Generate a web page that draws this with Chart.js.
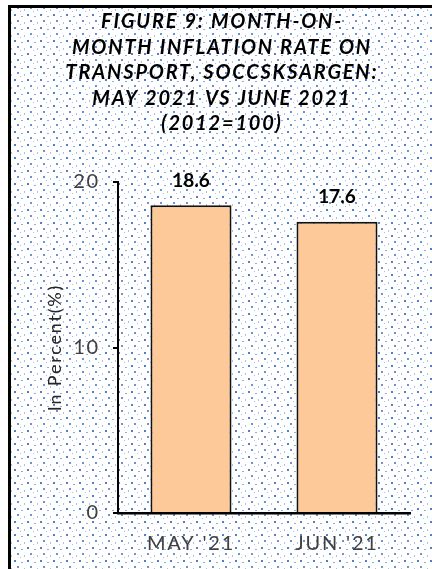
<!DOCTYPE html>
<html>
<head>
<meta charset="utf-8">
<script src="https://cdn.jsdelivr.net/npm/chart.js@4.4.0/dist/chart.umd.min.js"></script>
<style>
  body { margin: 0; background: #fff; }
  #wrap { width: 432px; height: 569px; }
</style>
</head>
<body>
<div id="wrap"><canvas id="myChart"></canvas></div>
<script>
// Chart data
const categories = ["MAY '21", "JUN '21"];
const inflationRates = [18.6, 17.6];
const yTicks = [0, 10, 20];
const titleLines = [
  'FIGURE 9: MONTH-ON-',
  'MONTH INFLATION RATE ON',
  'TRANSPORT, SOCCSKSARGEN:',
  'MAY 2021 VS JUNE 2021',
  '(2012=100)'
];
const yAxisTitle = 'In Percent(%)';

const fontFamily = 'Lato, "Open Sans", sans-serif';

// small tile for the blue dotted background
function makePattern(ctx) {
  const tile = document.createElement('canvas');
  tile.width = 13;
  tile.height = 13;
  const t = tile.getContext('2d');
  t.fillStyle = '#fff';
  t.fillRect(0, 0, 13, 13);
  t.fillStyle = '#4f7fc9';
  t.fillRect(1, 1, 2, 2);
  t.fillStyle = '#8eaee0';
  t.fillRect(8, 3, 2, 1);
  t.fillStyle = '#6b93d4';
  t.fillRect(4, 7, 2, 2);
  t.fillStyle = '#a8c1e8';
  t.fillRect(11, 9, 1, 2);
  t.fillRect(7, 11, 1, 1);
  return ctx.createPattern(tile, 'repeat');
}

const framePlugin = {
  id: 'frame',
  beforeDraw(chart) {
    const ctx = chart.ctx;
    ctx.save();
    ctx.fillStyle = '#fff';
    ctx.fillRect(0, 0, chart.width, chart.height);
    ctx.fillStyle = makePattern(ctx);
    ctx.fillRect(11, 8, chart.width, chart.height);
    ctx.fillStyle = '#000';
    ctx.fillRect(8, 5, chart.width, 3);
    ctx.fillRect(8, 5, 3, chart.height);
    ctx.restore();
    // wide letters for title and axis labels
    ctx.letterSpacing = '1.8px';
  },
  beforeDatasetsDraw(chart) {
    chart.ctx.letterSpacing = '0px';
  },
  afterDatasetsDraw(chart) {
    // value labels above the bars
    const ctx = chart.ctx;
    const meta = chart.getDatasetMeta(0);
    ctx.save();
    ctx.font = 'bold 19px ' + fontFamily;
    ctx.fillStyle = '#000';
    ctx.textAlign = 'center';
    ctx.textBaseline = 'bottom';
    meta.data.forEach((bar, i) => {
      ctx.fillText(inflationRates[i].toFixed(1), bar.x, bar.y - 15);
    });
    ctx.restore();
  }
};

const ctx = document.getElementById('myChart').getContext('2d');
const chart = new Chart(ctx, {
  type: 'bar',
  data: {
    labels: categories,
    datasets: [{
      data: inflationRates,
      backgroundColor: '#fdc998',
      borderColor: '#111',
      borderWidth: 2,
      barPercentage: 0.555,
      categoryPercentage: 1
    }]
  },
  options: {
    responsive: true,
    maintainAspectRatio: false,
    animation: false,
    layout: {
      padding: { left: 34, right: 22, top: 0, bottom: 0 }
    },
    scales: {
      y: {
        min: 0,
        max: 20,
        afterBuildTicks: scale => {
          scale.ticks = yTicks.map(v => ({ value: v }));
        },
        afterFit: scale => { scale.width = 84; },
        ticks: {
          color: '#404040',
          padding: 13,
          font: { family: fontFamily, size: 20 }
        },
        grid: {
          drawOnChartArea: false,
          drawTicks: true,
          tickLength: 5,
          color: '#000',
          lineWidth: 2
        },
        border: { display: true, color: '#000', width: 2 },
        title: {
          display: true,
          text: yAxisTitle,
          color: '#262626',
          padding: { top: 10 },
          font: { family: fontFamily, size: 18 }
        }
      },
      x: {
        afterFit: scale => { scale.height = 56; },
        ticks: {
          color: '#404040',
          padding: 11,
          font: { family: fontFamily, size: 20 }
        },
        grid: { display: false },
        border: { display: true, color: '#000', width: 2.5 }
      }
    },
    plugins: {
      legend: { display: false },
      tooltip: { enabled: false },
      title: {
        display: true,
        text: titleLines,
        color: '#000',
        padding: { top: 9, bottom: 45.5 },
        font: { family: fontFamily, size: 20, weight: 'bold', style: 'italic', lineHeight: 25.5 / 20 }
      }
    }
  },
  plugins: [framePlugin]
});
</script>
</body>
</html>
